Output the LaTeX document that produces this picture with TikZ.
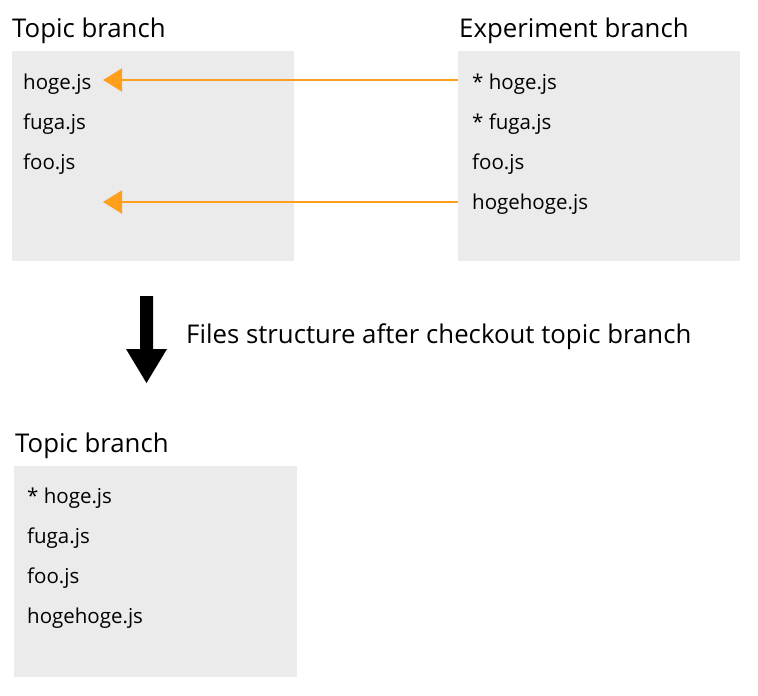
\documentclass[tikz,border=0pt]{standalone}
\usepackage{fontspec}
\setmainfont{Open Sans}
\usepackage{xcolor}
\usepackage{tikz}
\usetikzlibrary{positioning,arrows.meta}

\definecolor{boxgray}{RGB}{235,235,235}
\definecolor{arroworange}{RGB}{255,159,28}

\tikzset{
  title/.style={anchor=base west, inner sep=0pt, font=\fontsize{25.8}{30}\selectfont},
  item/.style={anchor=base west, inner sep=0pt, font=\fontsize{20.5}{24}\selectfont},
  filebox/.style={fill=boxgray, draw=none, inner sep=0pt, anchor=north west},
  movearrow/.style={draw=arroworange, line width=2pt, -{Triangle[length=19pt,width=23pt]}}
}

\begin{document}
\begin{tikzpicture}[x=1pt, y=-1pt]

\useasboundingbox (0,0) rectangle (758,696);

% Branch boxes before checkout
\node[filebox, minimum width=282pt, minimum height=210pt] (box1) at (12,51) {};
\node[filebox, minimum width=282pt, minimum height=210pt] (box2) at (458,51) {};

\node[title] (title1) at (12,37) {Topic branch};
\node[title] (title2) at (459,37) {Experiment branch};

% Topic branch files
\node[item] (topic1) at (23,89) {hoge.js};
\node[item] (topic2) at (23,129) {fuga.js};
\node[item] (topic3) at (23,169) {foo.js};

% Experiment branch files
\node[item] (exp1) at (472,89) {* hoge.js};
\node[item] (exp2) at (472,129) {* fuga.js};
\node[item] (exp3) at (472,169) {foo.js};
\node[item] (exp4) at (472,209) {hogehoge.js};

% Files copied over to the topic branch
\coordinate (hogetip) at (103,80);
\coordinate (newtip) at (103,202);
\draw[movearrow] (box2.west |- hogetip) -- (hogetip);
\draw[movearrow] (box2.west |- newtip) -- (newtip);

% Big down arrow and caption
\def\arrowx{146.5}
\fill[black] (\arrowx-6.5,296) -- (\arrowx+6.5,296) -- (\arrowx+6.5,349)
  -- (\arrowx+20.5,349) -- (\arrowx,383) -- (\arrowx-20.5,349)
  -- (\arrowx-6.5,349) -- cycle;
\node[title] (caption) at (186,343) {Files structure after checkout topic branch};

% Topic branch after checkout
\node[filebox, minimum width=283pt, minimum height=211pt] (box3) at (14,466) {};
\node[title] (title3) at (15,452) {Topic branch};

\node[item] (after1) at (27,503) {* hoge.js};
\node[item] (after2) at (27,543) {fuga.js};
\node[item] (after3) at (27,583) {foo.js};
\node[item] (after4) at (27,623) {hogehoge.js};

\end{tikzpicture}
\end{document}
